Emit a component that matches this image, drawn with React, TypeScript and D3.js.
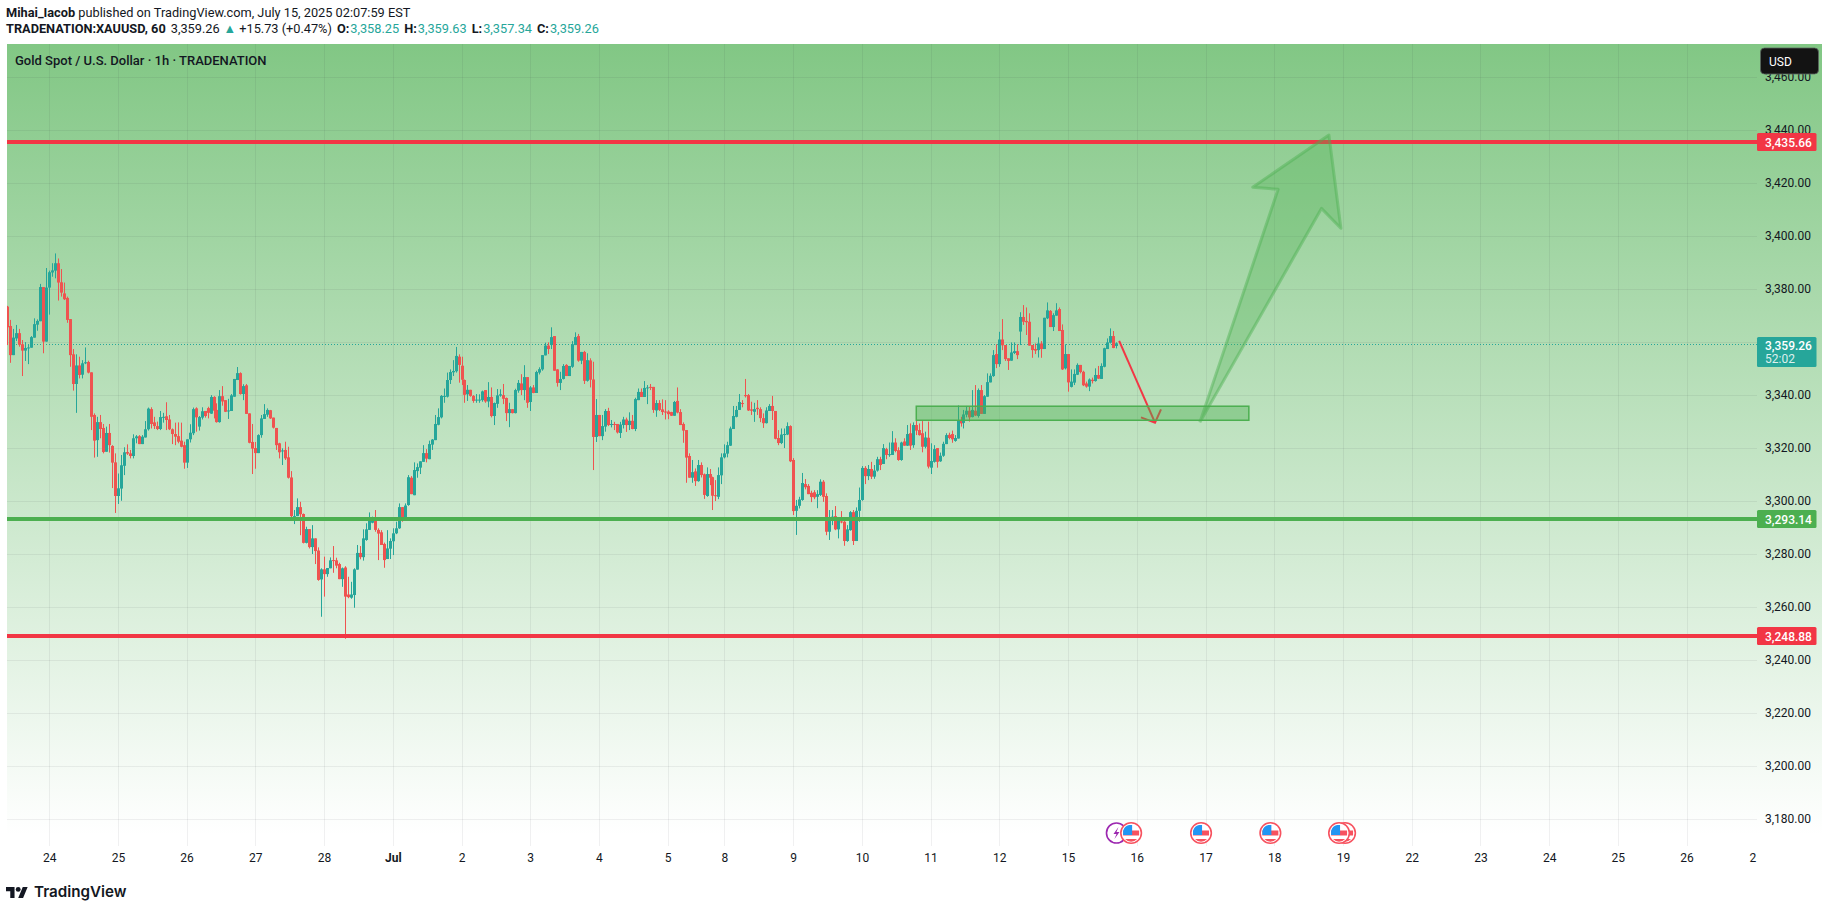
// @ts-nocheck

import React, { useEffect, useRef } from 'react';
import * as d3 from 'd3';

// candles per session as [open, high, low, close]
const jun23 = [
  [3373.1,3373.4,3358.6,3365.3],[3365.8,3368.1,3351.9,3354.8],[3354.8,3364.7,3354.8,3361.4],[3361.1,3366.2,3360.1,3363.1],
  [3363.1,3364.7,3358,3358.7],[3358.9,3360.5,3346.9,3356.5],[3356.5,3359.7,3352.6,3357.5],[3357.4,3359,3351.4,3357.7],
  [3357.6,3362,3357.6,3361.6],[3361.4,3368.7,3361.4,3366.5],[3366.3,3368.3,3364,3367.7],[3367.6,3381.7,3367.6,3380.5],
  [3380.5,3380.5,3355.5,3359.9],[3359.9,3387.7,3359.9,3380.3],
];
const jun24 = [
  [3380.3,3386.7,3370.1,3386.1],[3386,3389.5,3384.4,3386.8],[3386.7,3393.2,3383.8,3389.5],[3389.5,3391.3,3375.4,3382.2],
  [3382.3,3387.3,3376.9,3378.4],[3378.1,3382.2,3375.6,3375.9],[3376.4,3376.9,3367,3368.1],[3368.4,3368.4,3350.4,3354.8],
  [3355.1,3357.1,3341.4,3343.9],[3343.9,3355.1,3333,3350.9],[3350.9,3354.2,3346,3347.3],[3347.4,3352.9,3346,3351.7],
  [3351.7,3357.7,3351.4,3352.1],[3352.2,3352.7,3347.9,3348.2],[3348.3,3348.3,3326.5,3331.5],[3332.2,3332.8,3316.1,3322.5],
  [3322.7,3331.5,3316.4,3329.5],[3329.5,3332.2,3323.4,3326.9],[3327.3,3328.8,3317.7,3318.2],[3318.3,3327.8,3318.3,3325.4],
  [3325.4,3328.8,3318,3320.8],[3320.5,3320.8,3304.6,3314.2],[3314.3,3317.7,3295.2,3301.6],
];
const jun25 = [
  [3301.6,3310.1,3298.6,3304.5],[3304.4,3317.1,3299.8,3313.2],[3313,3320,3309.5,3318.1],[3318.2,3321.1,3317.1,3317.6],
  [3317.7,3319,3315.8,3316.7],[3316.7,3324.9,3315.8,3323.4],[3323.4,3324.6,3321.5,3324.1],[3324.2,3324.6,3321.2,3321.2],
  [3321.2,3324.6,3321.2,3324],[3323.7,3329.9,3323.7,3326.8],[3326.8,3335,3326.3,3334.6],[3334.4,3335.1,3327.1,3328.8],
  [3329.4,3331.5,3326.9,3328],[3328,3329.7,3326.5,3326.9],[3326.9,3333.7,3326.5,3331.4],[3331.2,3333,3329.3,3331.5],
  [3331.7,3337,3326.5,3330.3],[3330.5,3332.2,3326.5,3326.8],[3326.8,3327.1,3321.2,3325],[3325,3329.3,3320.8,3324],
  [3324.2,3329.4,3321.5,3322.1],[3322.5,3329.3,3320,3320.2],[3320.8,3322.1,3311.9,3314.2],
];
const jun26 = [
  [3314.2,3323,3312.2,3323],[3323,3328.7,3321.8,3325.5],[3325.3,3335,3324.6,3334.4],[3334.7,3335.1,3325.9,3331.3],
  [3327.8,3331.8,3326.3,3331.4],[3331.2,3335.1,3330.5,3333.6],[3333.7,3333.7,3331.2,3331.8],[3334.8,3335.3,3330.9,3333],
  [3332.7,3339.7,3332.6,3339],[3339,3339.3,3330.9,3333.8],[3334.1,3336.6,3329.3,3329.5],[3329.5,3341.6,3329.3,3339.3],
  [3339.3,3343.1,3335.7,3337.3],[3337.8,3337.8,3333.3,3333.4],[3333.7,3338.3,3330.7,3333.9],[3333.7,3340.1,3333.7,3339.6],
  [3339.1,3345.8,3339.1,3345.8],[3345.4,3350.3,3345.4,3348],[3348,3348.3,3339.9,3340.1],[3340.1,3343.8,3337.8,3343.1],
  [3343.4,3343.9,3332.6,3332.6],[3332.8,3332.8,3321.5,3321.7],[3322,3328.8,3309.9,3319.5],
];
const jun27 = [
  [3319.7,3322,3311.9,3317.8],[3317.8,3324.9,3317.8,3324.6],[3324.6,3332.2,3323.6,3330.9],[3330.7,3336.3,3330.7,3332.5],
  [3332.3,3334.7,3331.5,3334.1],[3334,3334.1,3330.7,3330.9],[3331.2,3331.2,3327.1,3327.4],[3327.3,3327.3,3319,3320.8],
  [3321.5,3321.7,3315.8,3318.1],[3318.6,3319.6,3313.3,3318.8],[3319,3322.1,3315.2,3315.8],[3316.2,3320.2,3308.2,3308.5],
  [3308.6,3311,3292.8,3294],[3293.8,3296.3,3291,3294],[3294,3300.7,3294,3297.4],[3297.4,3299.4,3286.8,3294.7],
  [3294.8,3295,3283.7,3283.9],[3283.9,3290,3283.7,3289.1],[3289.1,3289.1,3281.8,3282.3],[3282.3,3290.6,3279.7,3285.6],
  [3285.6,3285.6,3275.9,3280.8],[3281,3282.2,3269.6,3269.9],[3270.1,3274.3,3256,3273.9],
];
const jun28 = [
  [3273.9,3278.7,3263.6,3272.1],[3272.1,3274.4,3271.1,3274.4],[3274.3,3278.4,3274.3,3277.3],[3277.4,3282.7,3272.6,3277.2],
  [3277.3,3278.3,3274.3,3275.3],[3275.9,3276.4,3270.2,3270.2],[3270.2,3274.6,3267.3,3274.3],[3274.6,3275.1,3247.7,3263.6],
  [3264.4,3271.1,3263,3263.4],[3263.2,3269.2,3262.8,3264.4],[3264.2,3274.3,3259.4,3273.9],[3273.8,3283.1,3273.8,3280.1],
  [3280.1,3282.7,3277.7,3278.5],[3278.5,3289,3277.2,3285.6],[3285,3291.3,3284.7,3289],[3288.8,3295.4,3288.8,3292.5],
  [3291.5,3293.8,3291.3,3292.8],[3292.8,3296.3,3288.1,3288.8],[3288.8,3289.4,3277.4,3287.4],[3287.9,3288.7,3283.1,3283.1],
  [3283.5,3284,3274.5,3277.4],[3277.8,3288.7,3277.8,3281.8],[3281.7,3285.6,3277.8,3284.6],
];
const jul1 = [
  [3284.5,3289.4,3279.3,3287.5],[3287.5,3291.9,3287.2,3289.4],[3289.4,3298.8,3289.2,3297.4],[3297.4,3297.4,3291.9,3292.8],
  [3293.2,3298.8,3293.2,3298],[3298.2,3309.5,3297.9,3308.7],[3308.5,3309.1,3302.3,3302.3],[3301.9,3314.3,3301.9,3311.4],
  [3311,3313.9,3308.5,3312.5],[3312.3,3314.7,3309.9,3314.7],[3314.5,3320.8,3314.5,3317.8],[3317.8,3319.3,3314.3,3315.7],
  [3315.5,3322.5,3315.5,3321.2],[3321,3323.1,3319,3322.9],[3322.7,3332.2,3322.7,3328.8],[3328.5,3334.7,3328.3,3331.4],
  [3331.3,3339.7,3330.9,3339.4],[3339.1,3342.2,3336.8,3339.4],[3339.1,3348.2,3338.8,3345.4],[3345.4,3349.4,3343.9,3348.4],
  [3348.3,3352.9,3346.9,3348.8],[3348.7,3357.9,3348.2,3354.5],[3354.2,3355.1,3344.4,3351.1],
];
const jul2 = [
  [3350.8,3354.2,3343.5,3345.5],[3345.4,3345.6,3336.8,3339.8],[3340,3343.5,3337.5,3341.7],[3341.7,3341.7,3339.1,3339.4],
  [3339.4,3339.7,3336.8,3337.5],[3337.7,3340.1,3336.8,3338],[3337.8,3340,3336.8,3338],[3337.8,3341.4,3337.2,3341.1],
  [3341.6,3341.6,3336.8,3337.3],[3337.3,3344.6,3335.1,3339],[3339,3342.6,3331.3,3331.8],[3331.8,3336.9,3328.4,3336.7],
  [3336.4,3342,3334.9,3339.6],[3339.5,3341.9,3339.1,3340],[3339.7,3343.9,3336.3,3338.3],[3338.6,3338.8,3329.9,3332.9],
  [3332.9,3336.8,3327.6,3334.4],[3334.4,3334.4,3332.8,3332.9],[3332.9,3342.1,3332.8,3341.6],[3341.4,3345.4,3340.6,3344.3],
  [3344.1,3347.6,3339.7,3341.6],[3341.6,3351,3337.8,3346.5],[3346.5,3346.5,3334.9,3336.8],
];
const jul3 = [
  [3337.1,3343.1,3333.7,3342.6],[3342.6,3343.5,3340.4,3340.5],[3340.5,3348.9,3340.5,3348.4],[3348.2,3350.2,3347.5,3349.5],
  [3349.4,3354.8,3348.9,3354.8],[3354.7,3359.5,3354.7,3358.4],[3358.4,3359.6,3355.2,3357.1],[3358.6,3365.3,3357.1,3361.6],
  [3362,3362,3348.9,3348.9],[3349.4,3349.5,3342.9,3344.3],[3344.3,3348.5,3341.6,3345.8],[3345.8,3351.4,3345.6,3350.7],
  [3351.1,3351.4,3346.9,3346.9],[3346.9,3350.7,3346.9,3350.7],[3350.4,3360.1,3350,3358.9],[3358.6,3363.4,3358.6,3361.6],
  [3362,3362.8,3352.3,3352.7],[3352.7,3356,3351.4,3356],[3356,3356.4,3343.9,3345.1],[3345.1,3355.5,3344.8,3352.9],
  [3352.8,3353.6,3342.6,3345.5],[3345.6,3352.3,3311.4,3323.9],[3323.9,3338.2,3322,3332.2],
];
const jul4 = [
  [3332.2,3332.2,3324.2,3324.2],[3324.2,3332.2,3322.7,3328],[3327.8,3334.4,3325.9,3333.7],[3333.7,3334.9,3328,3328.4],
  [3328.4,3330.3,3327.5,3328.8],[3328.8,3329.6,3326.5,3328.5],[3328.8,3328.8,3325.2,3325.6],[3325.4,3329.6,3323.5,3328.6],
  [3328.4,3331.5,3327.1,3330.5],[3330.5,3331.2,3325.8,3328.4],[3328.4,3333.2,3326.5,3330],[3330,3332.2,3326.8,3326.9],
  [3326.9,3338.7,3326.1,3338.2],[3337.8,3342.2,3337.8,3340.9],[3340.9,3342.2,3339,3339],[3339,3345,3339,3342.4],
  [3342.4,3343.5,3336.3,3342.6],[3342.8,3343.9,3341.6,3342.5],[3342.8,3342.8,3333,3334.1],[3333.9,3337.8,3331.5,3336.7],
  [3336.7,3337.8,3333.7,3334.1],[3334.3,3338.1,3332.2,3333.3],[3333.5,3337.8,3330.5,3333.4],
];
const jul5 = [
  [3333.5,3334,3330.6,3332.5],[3333.3,3333.4,3331.8,3331.9],[3331.9,3337.5,3331.9,3337.1],[3337.5,3342.6,3332.8,3333.1],
  [3333.3,3334.4,3328.4,3328.4],[3328.8,3329.4,3321.7,3326.3],[3326.5,3326.5,3306.6,3316.1],[3316.7,3317.7,3308.5,3308.5],
  [3308.5,3315.2,3306.6,3310.6],[3310.9,3312,3305.4,3307.2],[3307.2,3315.2,3307,3313.3],[3313.3,3314.3,3308.6,3309.5],
  [3309.8,3310.1,3300.5,3302],[3301.6,3312.4,3301.3,3309.9],[3309.9,3311.8,3305.7,3308.5],[3308.7,3308.9,3296.3,3301.7],
  [3301.9,3307.6,3299.7,3301.8],[3301.3,3312.4,3300.4,3309.5],[3309.4,3317.7,3306.1,3316.2],
];
const jul8 = [
  [3316.2,3321.1,3315.8,3317.7],[3317.6,3322.1,3316.2,3320.8],[3320.6,3327.8,3320.5,3327.1],[3326.9,3335.6,3326.9,3331.8],
  [3331.5,3335.6,3331.3,3334.1],[3334.1,3340.1,3334.1,3337.1],[3336.7,3337.8,3335.1,3336.5],[3339.7,3345.8,3338.8,3339.3],
  [3339.7,3340.1,3333.7,3333.9],[3334.3,3337.2,3332.2,3333.8],[3333.4,3336.8,3329.6,3334.4],[3334.9,3337.8,3332.2,3334.4],
  [3334.4,3335.1,3329.5,3331],[3331,3332.8,3327.3,3329.1],[3329.1,3335.1,3329,3333.9],[3333.7,3336.3,3333.7,3335.6],
  [3335.6,3339.4,3330.3,3333.7],[3333.7,3333.7,3323,3323.2],[3323.5,3326.5,3320.8,3321.6],[3321.6,3327.1,3321.2,3324.8],
  [3324.8,3327.1,3319.7,3325],[3324.8,3329.4,3324.6,3328],[3328,3328.3,3314.4,3314.7],
];
const jul9 = [
  [3315.2,3315.9,3294.4,3295.9],[3296,3300.1,3286.9,3297.9],[3297.9,3301.3,3296.9,3300.3],[3300.1,3310.3,3299.8,3306.5],
  [3306.1,3308,3304.1,3304.9],[3305.4,3306.1,3302.3,3302.3],[3302.8,3303.6,3299.3,3301.2],[3303,3303.8,3300.4,3301.1],
  [3301.3,3303.8,3297,3302.3],[3302,3307.9,3301.6,3307],[3307,3307.6,3299.4,3301.3],[3301.6,3302.6,3286.8,3288.1],
  [3288.1,3296.3,3285,3293.5],[3293.5,3296.3,3290.6,3293.8],[3294,3297.8,3288.7,3289],[3289,3293.1,3285.6,3292.3],
  [3292,3295.9,3291.3,3291.8],[3291.9,3292.5,3282.8,3284.6],[3284.6,3290.6,3284.3,3289],[3288.7,3295.9,3288.5,3295.5],
  [3295.5,3296.3,3283.1,3284.6],[3284.6,3297.3,3284.6,3296],[3296,3304.8,3291.9,3300.1],
];
const jul10 = [
  [3300.1,3312.9,3299.8,3312.2],[3312.2,3312.9,3306.1,3309.1],[3309.1,3313.3,3307.6,3311.8],[3311.8,3314.5,3308,3308.9],
  [3308.9,3313.3,3308.1,3311.2],[3311.2,3316.4,3310.8,3315.5],[3315.5,3316.4,3311.4,3313.3],[3313.7,3321.2,3313.7,3319.7],
  [3319.3,3319.8,3315.5,3317.1],[3317.1,3321.8,3316.4,3317.4],[3317.1,3326.1,3317.1,3321.8],[3321.8,3323.4,3318.1,3318.6],
  [3318.9,3320,3314.9,3315.2],[3315.2,3322.1,3314.9,3321.8],[3322.2,3323.4,3320.6,3320.6],[3320.6,3328.4,3320.5,3325],
  [3325.3,3329,3319,3320.6],[3320.8,3329.4,3319.8,3328.4],[3328.4,3330.3,3324.6,3326.3],[3326.5,3329,3324.4,3324.6],
  [3325.3,3329.9,3318.1,3320.2],[3320.2,3325.9,3319.6,3323.7],[3323.6,3329.7,3312,3312.7],
];
const jul11 = [
  [3312.3,3321.5,3309.9,3314.8],[3314.5,3320.8,3314.2,3319.3],[3319.7,3319.7,3312.3,3314.5],[3314.7,3318,3314.5,3316.8],
  [3316.8,3322.1,3316.4,3321.3],[3321.2,3325.3,3321.2,3324.6],[3324.7,3325.5,3323,3323.5],[3325,3326.3,3321.7,3323],
  [3322.4,3324.6,3322.1,3323.5],[3323.3,3335.8,3323.3,3330.2],[3330.3,3331.5,3327.8,3329],[3329.2,3334.1,3327.1,3332.4],
  [3332.3,3335.6,3331.3,3333.8],[3333.8,3335.3,3329.7,3331.3],[3331.4,3341.6,3331.3,3334.1],[3333.8,3343.5,3331.8,3332],
  [3331.8,3342.2,3331.2,3341.6],[3341.6,3343.5,3332.6,3332.6],[3332.6,3339.7,3332.6,3339.3],[3339.1,3347.9,3339.1,3344.6],
  [3344.5,3347.9,3344.5,3347],[3346.9,3356.7,3346.6,3354.8],[3355.2,3358.9,3349.9,3351.4],
];
const jul12 = [
  [3351.4,3363.6,3350.4,3360.7],[3360.7,3368.4,3356.7,3358.5],[3358.6,3358.6,3352.6,3353.3],[3353.6,3353.6,3349.2,3352.6],
  [3352.7,3359.6,3352.7,3355.8],[3355.6,3359.6,3355.2,3356.3],[3356.3,3358.9,3353.3,3354.8],[3363.7,3371,3358.6,3369.2],
  [3369.2,3373.7,3366.2,3367.4],[3367.7,3372.8,3362.4,3367.2],[3367.4,3370.6,3358.4,3358.4],[3358.6,3358.6,3353.8,3356.7],
  [3357.1,3359.2,3355.2,3356.5],[3356.7,3361.5,3353.9,3359.2],[3359.2,3360.1,3353.8,3357.1],[3357.1,3368.9,3357.1,3368.9],
  [3368.7,3374.7,3368.4,3371.7],[3371.5,3371.8,3365.4,3365.4],[3365.4,3370.6,3363.9,3369.9],[3369.7,3374.4,3369.7,3371.7],
  [3372.2,3372.8,3363.9,3363.9],[3364.3,3366.4,3349.2,3349.4],[3349.8,3358.9,3349.4,3355.2],
];
const jul15 = [
  [3355.2,3355.2,3341,3344.5],[3342.8,3349.4,3342.6,3344.8],[3344.4,3349.4,3343.5,3347.7],[3347.4,3351.7,3347.3,3351.1],
  [3351.1,3351.1,3347.9,3348.4],[3348.5,3348.9,3343.1,3343.4],[3344.1,3344.8,3342.5,3342.9],[3342.9,3346,3341.2,3345.6],
  [3345.5,3346.3,3344.1,3345],[3345,3349.8,3344.8,3347.3],[3347.3,3350.7,3345.8,3345.9],[3345.8,3351.7,3345.8,3350.7],
  [3350.4,3357.6,3350.2,3357.4],[3357.1,3361.1,3357.1,3359.6],[3359.5,3364.9,3359.2,3362],[3362,3363.9,3357.4,3357.5],
  [3358.25,3359.63,3357.34,3359.26],
];
const sessions = [jun23, jun24, jun25, jun26, jun27, jun28, jul1, jul2, jul3, jul4, jul5, jul8, jul9, jul10, jul11, jul12, jul15];

// time axis: bar index of each date label
const dayLabels = ['24','25','26','27','28','Jul','2','3','4','5','8','9','10','11','12','15','16','17','18','19','22','23','24','25','26','2'];
const dayBars = [14,37,60,83,106,129,152,175,198,221,240,263,286,309,332,355,378,401,424,447,470,493,516,539,562,584];

const priceTicks = [3180,3200,3220,3240,3260,3280,3300,3320,3340,3360,3380,3400,3420,3440,3460];
const hiddenPriceLabels = [3360]; // covered by the last price tag
const lastPrice = 3359.26;
const resistanceTop = 3435.66;
const supportMid = 3293.14;
const resistanceLow = 3248.88;

// drawings: bar index and price pairs
const zoneBars = [304.2, 415.5];
const zonePrices = [3335.5, 3330.2];
const shortArrow = [[372.1,3360.2],[384.1,3329.3]];
const shortArrowHead = [[379.4,3331.3],[384.1,3329.3],[386.1,3334.3]];
const bigArrow = [[399.1,3329.4],[425.3,3417.4],[416.8,3418.2],[442.3,3437.9],[446.3,3402.7],[439.8,3410.2],[399.1,3329.4]];

// economic calendar markers
const flagBars = [376.1, 399.5, 422.7, 447.7, 445.7];
const boltBars = [371.2];

const UP = '#26a69a';
const DOWN = '#ef5350';
const RED = '#f23645';
const GREEN = '#4caf50';
const INK = '#131722';
const FONT = 'Roboto, sans-serif';

const App: React.FC = () => {
  const ref = useRef<SVGSVGElement | null>(null);

  useEffect(() => {
    const width = 1829;
    const height = 911;
    const plot = { left: 7, right: 1757, top: 44, bottom: 846 };

    const svg = d3.select(ref.current);
    svg.selectAll('*').remove();

    const x = d3.scaleLinear().domain([0, 585]).range([7.33, 7.33 + 2.988 * 585]);
    const y = d3.scaleLinear().domain([3180, 3440]).range([818, 129.5]);
    // TradingView snaps lines to whole pixels
    const snap = (p) => Math.round(y(p) + 0.6);

    const defs = svg.append('defs');
    const grad = defs.append('linearGradient').attr('id', 'bg').attr('x1', 0).attr('x2', 0).attr('y1', 0).attr('y2', 1);
    grad.append('stop').attr('offset', 0).attr('stop-color', GREEN).attr('stop-opacity', 0.7);
    grad.append('stop').attr('offset', 1).attr('stop-color', GREEN).attr('stop-opacity', 0);
    defs.append('clipPath').attr('id', 'plot').append('rect')
      .attr('x', plot.left).attr('y', plot.top).attr('width', plot.right - plot.left).attr('height', plot.bottom - plot.top);

    svg.append('rect').attr('width', width).attr('height', height).attr('fill', '#fff');
    svg.append('rect').attr('x', plot.left).attr('y', plot.top).attr('width', 1822 - plot.left).attr('height', 835 - plot.top).attr('fill', 'url(#bg)');

    // grid
    const grid = svg.append('g').attr('stroke', 'rgba(42,46,57,0.07)').attr('stroke-width', 1);
    grid.selectAll('.h').data(priceTicks).join('line').attr('class', 'h')
      .attr('x1', plot.left).attr('x2', plot.right).attr('y1', (d) => snap(d) + 0.5).attr('y2', (d) => snap(d) + 0.5);
    grid.selectAll('.v').data(dayBars.slice(0, -1)).join('line').attr('class', 'v')
      .attr('x1', (d) => Math.round(x(d)) + 0.5).attr('x2', (d) => Math.round(x(d)) + 0.5).attr('y1', plot.top).attr('y2', plot.bottom);

    // last price dotted line
    svg.append('line').attr('x1', plot.left).attr('x2', plot.right).attr('y1', snap(lastPrice) + 0.5).attr('y2', snap(lastPrice) + 0.5)
      .attr('stroke', UP).attr('stroke-width', 1).attr('stroke-dasharray', '1,2');

    // candles
    const candles = sessions.flat().map((c, i) => ({ i, o: c[0], h: c[1], l: c[2], c: c[3] }));
    const chart = svg.append('g').attr('clip-path', 'url(#plot)');
    const bar = chart.selectAll('g.c').data(candles).join('g').attr('class', 'c')
      .attr('fill', (d) => (d.c >= d.o ? UP : DOWN));
    bar.append('rect').attr('x', (d) => Math.round(x(d.i))).attr('width', 1)
      .attr('y', (d) => y(d.h)).attr('height', (d) => y(d.l) - y(d.h));
    bar.append('rect').attr('x', (d) => Math.round(x(d.i)) - 1).attr('width', 3)
      .attr('y', (d) => y(Math.max(d.o, d.c))).attr('height', (d) => Math.max(1, Math.abs(y(d.o) - y(d.c))));

    // horizontal levels
    [[resistanceTop, RED], [supportMid, GREEN], [resistanceLow, RED]].forEach(([p, col]) => {
      svg.append('line').attr('x1', plot.left).attr('x2', plot.right).attr('y1', snap(p)).attr('y2', snap(p))
        .attr('stroke', col).attr('stroke-width', 4);
    });

    // drawings
    const line = d3.line().x((d) => x(d[0])).y((d) => y(d[1]));
    svg.append('path').attr('d', line(shortArrow)).attr('fill', 'none').attr('stroke', RED).attr('stroke-width', 2);
    svg.append('path').attr('d', line(shortArrowHead)).attr('fill', 'none').attr('stroke', RED).attr('stroke-width', 2);
    svg.append('rect').attr('x', x(zoneBars[0])).attr('width', x(zoneBars[1]) - x(zoneBars[0]))
      .attr('y', y(zonePrices[0])).attr('height', y(zonePrices[1]) - y(zonePrices[0]))
      .attr('fill', 'rgba(76,175,80,0.4)').attr('stroke', GREEN).attr('stroke-width', 1.5);
    svg.append('path').attr('d', line(bigArrow)).attr('fill', 'rgba(76,175,80,0.3)')
      .attr('stroke', 'rgba(76,175,80,0.45)').attr('stroke-width', 3).attr('stroke-linejoin', 'round');

    const yAxis = d3.axisRight(y).tickValues(priceTicks.filter((t) => !hiddenPriceLabels.includes(t))).tickSize(0).tickPadding(0)
      .tickFormat((d) => d3.format(',.2f')(d));
    svg.append('g').attr('transform', 'translate(1765,0.5)').call(yAxis)
      .call((g) => g.select('.domain').remove())
      .call((g) => g.selectAll('text').attr('font-family', FONT).attr('font-size', 12).attr('fill', INK));

    const xAxis = d3.axisBottom(x).tickValues(dayBars).tickSize(0).tickPadding(0)
      .tickFormat((d) => dayLabels[dayBars.indexOf(d)]);
    svg.append('g').attr('transform', 'translate(0,853)').call(xAxis)
      .call((g) => g.select('.domain').remove())
      .call((g) => g.selectAll('text').attr('font-family', FONT).attr('font-size', 12).attr('fill', INK)
        .attr('font-weight', (d) => (d === 129 ? 700 : 400)));

    // price labels
    const tag = (p, col, txt) => {
      const g = svg.append('g');
      g.append('rect').attr('x', 1757).attr('y', snap(p) - 9).attr('width', 59.5).attr('height', 18).attr('rx', 1.5).attr('fill', col);
      g.append('text').attr('x', 1765).attr('y', snap(p) + 4.5).attr('font-family', FONT).attr('font-size', 12)
        .attr('font-weight', 500).attr('fill', '#fff').text(txt);
    };
    tag(resistanceTop, RED, d3.format(',.2f')(resistanceTop));
    tag(supportMid, GREEN, d3.format(',.2f')(supportMid));
    tag(resistanceLow, RED, d3.format(',.2f')(resistanceLow));
    const last = svg.append('g');
    last.append('rect').attr('x', 1757).attr('y', 337).attr('width', 59.5).attr('height', 30).attr('rx', 1.5).attr('fill', UP);
    last.append('text').attr('x', 1765).attr('y', 349.5).attr('font-family', FONT).attr('font-size', 12)
      .attr('font-weight', 500).attr('fill', '#fff').text(d3.format(',.2f')(lastPrice));
    last.append('text').attr('x', 1765).attr('y', 362.5).attr('font-family', FONT).attr('font-size', 12)
      .attr('fill', 'rgba(255,255,255,0.85)').text('52:02');

    // USD button
    svg.append('rect').attr('x', 1760.5).attr('y', 48).attr('width', 58).attr('height', 26).attr('rx', 4)
      .attr('fill', '#131313').attr('stroke', 'rgba(90,100,95,0.8)');
    svg.append('text').attr('x', 1769).attr('y', 65.5).attr('font-family', FONT).attr('font-size', 12).attr('fill', '#fff').text('USD');

    // calendar markers
    const iconY = 833;
    boltBars.forEach((b) => {
      const g = svg.append('g').attr('transform', `translate(${x(b)},${iconY})`);
      g.append('circle').attr('r', 10).attr('fill', '#fff').attr('stroke', '#9c27b0').attr('stroke-width', 1.6);
      g.append('path').attr('d', 'M2,-6 L-3,1 L0,1 L-2,6 L3,-1 L0,-1 Z').attr('fill', '#9c27b0');
    });
    flagBars.forEach((b) => {
      const g = svg.append('g').attr('transform', `translate(${x(b)},${iconY})`);
      g.append('circle').attr('r', 10.3).attr('fill', '#fff').attr('stroke', '#f7525f').attr('stroke-width', 1.6);
      g.append('rect').attr('x', -8).attr('y', -2.5).attr('width', 16).attr('height', 5).attr('fill', '#f7525f');
      g.append('path').attr('d', 'M-8,2 L-8,-2 A8,8 0 0 1 -2,-8 L1,-8 L1,2 Z').attr('fill', '#2196f3');
      g.append('path').attr('d', 'M-6,6 L6,6 A8,8 0 0 1 -6,6 Z').attr('fill', '#f7525f');
    });

    // header text
    const head = svg.append('text').attr('x', 6).attr('y', 17).attr('font-family', FONT).attr('font-size', 12.75).attr('fill', INK);
    head.append('tspan').attr('font-weight', 700).text('Mihai_Iacob');
    head.append('tspan').text(' published on TradingView.com, July 15, 2025 02:07:59 EST');

    const sym = svg.append('text').attr('x', 6).attr('y', 33).attr('font-family', FONT).attr('font-size', 12.75).attr('fill', INK);
    sym.append('tspan').attr('font-weight', 700).text('TRADENATION:XAUUSD, 60');
    sym.append('tspan').attr('dx', 5).text('3,359.26');
    sym.append('tspan').attr('dx', 4).attr('fill', UP).text('▲');
    sym.append('tspan').attr('dx', 3).text('+15.73 (+0.47%)');
    [['O:', '3,358.25'], ['H:', '3,359.63'], ['L:', '3,357.34'], ['C:', '3,359.26']].forEach(([k, v]) => {
      sym.append('tspan').attr('dx', 5).attr('font-weight', 700).text(k);
      sym.append('tspan').attr('dx', 1).attr('fill', UP).text(v);
    });

    svg.append('text').attr('x', 15).attr('y', 65).attr('font-family', FONT).attr('font-size', 13)
      .attr('font-weight', 500).attr('fill', INK).text('Gold Spot / U.S. Dollar · 1h · TRADENATION');

    // logo
    const logo = svg.append('g').attr('transform', 'translate(6,884.5) scale(0.61)').attr('fill', INK);
    logo.append('path').attr('d', 'M14 22H7V11H0V4h14v18zM28 22h-8l7.5-18h8L28 22z');
    logo.append('circle').attr('cx', 20).attr('cy', 8).attr('r', 4);
    svg.append('text').attr('x', 34).attr('y', 897).attr('font-family', 'Inter, sans-serif').attr('font-size', 15.2)
      .attr('font-weight', 600).attr('fill', INK).text('TradingView');
  }, []);

  return <svg ref={ref} width={1829} height={911} style={{ position: 'fixed', left: 0, top: 0, display: 'block' }} />;
};

export default App;
